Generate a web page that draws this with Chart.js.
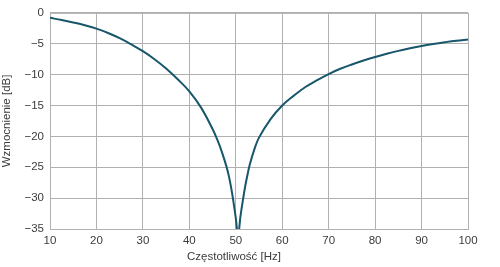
<!DOCTYPE html>
<html>
<head>
<meta charset="utf-8">
<script src="https://cdn.jsdelivr.net/npm/chart.js@4/dist/chart.umd.min.js"></script>
<style>
  html, body { margin: 0; padding: 0; background: #ffffff; }
  #wrap { width: 500px; height: 267px; }
</style>
</head>
<body>
<div id="wrap"><canvas id="c" width="500" height="267"></canvas></div>
<script>
const freqHz = [10, 12.5, 15, 17.5, 20, 22.5, 25, 27.5, 30, 32.5, 35, 37.5, 40, 42.5, 45, 46, 47, 48, 48.5, 49, 49.5, 50, 50.5, 51, 51.5, 52, 52.5, 53, 54, 55, 57.5, 60, 62.5, 65, 67.5, 70, 72.5, 75, 77.5, 80, 82.5, 85, 87.5, 90, 92.5, 95, 97.5, 100];
const gainDb = [-0.8, -1.15, -1.55, -2.0, -2.55, -3.25, -4.1, -5.1, -6.2, -7.5, -9.0, -10.75, -12.7, -15.3, -18.8, -20.5, -22.5, -24.9, -26.4, -28.3, -30.6, -33.2, -36, -33.0, -30.5, -28.2, -26.3, -24.6, -22.1, -20.2, -17.2, -15.0, -13.4, -12.0, -10.9, -9.9, -9.05, -8.35, -7.72, -7.15, -6.63, -6.15, -5.73, -5.35, -5.03, -4.75, -4.5, -4.3];
const xTicks = [10, 20, 30, 40, 50, 60, 70, 80, 90, 100];
const yTicks = [0, -5, -10, -15, -20, -25, -30, -35];
const xTitle = 'Częstotliwość [Hz]';
const yTitle = 'Wzmocnienie [dB]';

const points = freqHz.map((f, i) => ({ x: f, y: gainDb[i] }));
const gridColor = '#b0b0b0';
const textColor = '#3c3c3c';
const fontFamily = '"Liberation Sans", Arial, sans-serif';
const fontSize = 11.5;

new Chart(document.getElementById('c'), {
  type: 'line',
  data: {
    datasets: [{
      data: points,
      borderColor: '#17566b',
      borderWidth: 2,
      pointRadius: 0,
      fill: false,
      tension: 0.4
    }]
  },
  options: {
    responsive: false,
    animation: false,
    devicePixelRatio: 1,
    layout: { padding: { left: 0, right: 32, top: 7, bottom: 0 } },
    plugins: { legend: { display: false }, tooltip: { enabled: false } },
    scales: {
      x: {
        type: 'linear',
        min: 10, max: 100,
        afterBuildTicks: s => { s.ticks = xTicks.map(v => ({ value: v })); },
        afterFit: s => { s.height = 38; },
        grid: { color: gridColor, lineWidth: 1, drawTicks: false },
        border: { color: gridColor, width: 1 },
        ticks: { color: textColor, font: { family: fontFamily, size: fontSize }, padding: 5, maxRotation: 0,
                 callback: v => String(v) },
        title: { display: false }
      },
      y: {
        type: 'linear',
        min: -35, max: 0,
        afterBuildTicks: s => { s.ticks = yTicks.map(v => ({ value: v })); },
        afterFit: s => { s.width = 50; },
        grid: { color: gridColor, lineWidth: 1, drawTicks: false },
        border: { color: gridColor, width: 1 },
        ticks: { color: textColor, font: { family: fontFamily, size: fontSize }, padding: 6,
                 callback: v => (v < 0 ? '\u2212' + Math.abs(v) : String(v)) },
        title: { display: true, text: yTitle, color: textColor, font: { family: fontFamily, size: fontSize }, padding: { top: 0, bottom: 3 } }
      }
    }
  },
  plugins: [{
    id: 'frameAndTitle',
    afterDraw(chart) {
      const { ctx, chartArea: a } = chart;
      ctx.save();
      ctx.strokeStyle = gridColor;
      ctx.lineWidth = 1;
      ctx.beginPath();
      ctx.moveTo(a.left, a.top + 0.5);
      ctx.lineTo(a.right + 0.5, a.top + 0.5);
      ctx.lineTo(a.right + 0.5, a.bottom);
      ctx.stroke();
      ctx.fillStyle = textColor;
      ctx.font = fontSize + 'px ' + fontFamily;
      ctx.textAlign = 'center';
      ctx.textBaseline = 'middle';
      ctx.fillText(xTitle, 234, chart.height - 10);
      ctx.restore();
    }
  }]
});
</script>
</body>
</html>
